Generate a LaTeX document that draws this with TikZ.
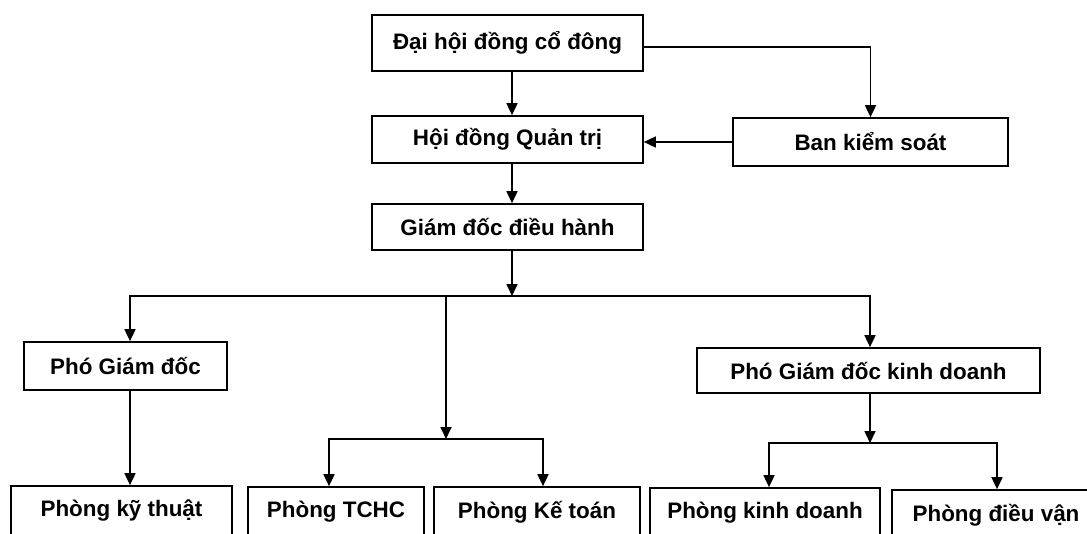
\documentclass[tikz,border=0pt]{standalone}
\usepackage{fontspec}
\setmainfont{Liberation Sans}
\usetikzlibrary{arrows.meta,calc}
\begin{document}
\begin{tikzpicture}[x=1pt,y=-1pt,
  box/.style={draw, rectangle, line width=1.7pt, inner sep=0pt,
    font=\fontsize{22.4}{26}\selectfont\bfseries},
  conn/.style={line width=1.7pt},
  arr/.style={line width=1.7pt, -{Triangle[length=12pt,width=11pt]}}]
\useasboundingbox (0,0) rectangle (1087,533);
\clip (0,0) rectangle (1087,533);
% top level
\node[box, minimum width=271pt, minimum height=56pt] (dh) at (507.5,43) {Đại hội đồng cổ đông};
\node[box, minimum width=271pt, minimum height=47pt] (hq) at (507.5,139.5) {Hội đồng Quản trị};
\node[box, minimum width=275pt, minimum height=48pt] (bks) at (870.5,142) {Ban kiểm soát};
\node[box, minimum width=271pt, minimum height=46pt] (gd) at (507.5,227) {Giám đốc điều hành};
% middle level
\node[box, minimum width=203pt, minimum height=48pt] (pgd) at (125.5,366) {Phó Giám đốc};
\node[box, minimum width=343pt, minimum height=45pt] (pgdkd) at (868.5,370.5) {Phó Giám đốc kinh doanh};
% bottom level
\node[box, minimum width=221pt, minimum height=50pt] (pkt) at (121.5,511) {Phòng kỹ thuật};
\node[box, minimum width=176pt, minimum height=50pt] (tchc) at (336,512) {Phòng TCHC};
\node[box, minimum width=206pt, minimum height=50pt] (ketoan) at (537,512) {Phòng Kế toán};
\node[box, minimum width=230pt, minimum height=50pt] (pkd) at (765,513) {Phòng kinh doanh};
\node[box, minimum width=208pt, minimum height=50pt] (pdv) at (996,515) {Phòng điều vận};
% junctions
\coordinate (j1) at (512,296);
\coordinate (j2) at (446,439);
\coordinate (j3) at (870,443);
% connectors
\draw[arr] ([xshift=4.5pt]dh.south) -- ([xshift=4.5pt]hq.north);
\draw[arr] ([yshift=-4pt]dh.east) -| (bks.north);
\draw[arr] (bks.west) -- (bks.west -| hq.east);
\draw[arr] ([xshift=4.5pt]hq.south) -- ([xshift=4.5pt]gd.north);
\draw[arr] ([xshift=4.5pt]gd.south) -- (j1);
\draw[arr] (j1) -| ([xshift=4.5pt]pgd.north);
\draw[arr] (j1) -| ([xshift=1.5pt]pgdkd.north);
\draw[arr] (j1 -| j2) -- (j2);
\draw[arr] ([xshift=4.5pt]pgd.south) -- ([xshift=4.5pt]pgd.south |- pkt.north);
\draw[arr] (j2) -| ([xshift=-7pt]tchc.north);
\draw[arr] (j2) -| ([xshift=6pt]ketoan.north);
\draw[arr] ([xshift=1.5pt]pgdkd.south) -- (j3);
\draw[arr] (j3) -| ([xshift=4pt]pkd.north);
\draw[arr] (j3) -| ([xshift=1pt]pdv.north);
\end{tikzpicture}
\end{document}
